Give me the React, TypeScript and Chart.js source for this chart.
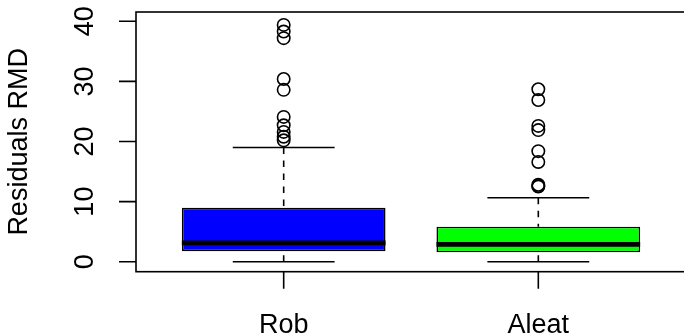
import React, { useEffect, useRef } from 'react';
import { Chart, registerables } from 'chart.js';

Chart.register(...registerables);

// ---- data ----
const categories = ['Rob', 'Aleat'];
const positions = [1, 2];
const boxColors = ['#0000FF', '#00FF00'];
const lowerWhisker = [0, 0];
const q1 = [1.75, 1.56];
const median = [3.15, 2.9];
const q3 = [9.0, 5.82];
const upperWhisker = [19.0, 10.65];
const robOutliers = [39.4, 38.3, 37.2, 30.4, 28.6, 24.1, 22.7, 21.6, 20.8, 20.2];
const aleatOutliers = [28.7, 26.9, 22.6, 21.9, 18.4, 16.6, 12.8, 12.6, 12.5];
const outliers = [robOutliers, aleatOutliers];
const yTicks = [0, 10, 20, 30, 40];
const yTitle = 'Residuals RMD';

// ---- scale limits / styling ----
const X_MIN = 0.42;
const X_MAX = 2.58;
const Y_MIN = -1.66;
const Y_MAX = 41.55;
const BOX_WEX = 0.8;
const STAPLE_WEX = 0.4;
const LW = 1.6;
const FONT = '27px "Liberation Sans", Arial, Helvetica, sans-serif';

const seg = (pts: { x: number; y: number }[], width: number, dash: number[] = []) => ({
  type: 'line' as const,
  data: pts,
  borderColor: '#000',
  borderWidth: width,
  borderDash: dash,
  borderCapStyle: 'butt' as const,
  pointRadius: 0,
  pointHoverRadius: 0,
  fill: false,
  tension: 0,
  order: 1,
});

const rAxes = {
  id: 'rAxes',
  afterDraw(chart: any) {
    const { ctx, chartArea } = chart;
    const { left, right, top, bottom } = chartArea;
    const xs = chart.scales.x;
    const ys = chart.scales.y;
    ctx.save();
    ctx.strokeStyle = '#000';
    ctx.fillStyle = '#000';
    ctx.lineWidth = LW;
    // frame
    ctx.strokeRect(left, top, right - left, bottom - top);
    // y axis ticks
    ctx.font = FONT;
    ctx.beginPath();
    yTicks.forEach((t) => {
      const py = ys.getPixelForValue(t);
      ctx.moveTo(left - 17, py);
      ctx.lineTo(left, py);
    });
    ctx.stroke();
    yTicks.forEach((t) => {
      const py = ys.getPixelForValue(t);
      ctx.save();
      ctx.translate(left - 42.7, py);
      ctx.rotate(-Math.PI / 2);
      ctx.textAlign = 'center';
      ctx.textBaseline = 'alphabetic';
      ctx.fillText(String(t), 0, 0);
      ctx.restore();
    });
    // x axis ticks
    ctx.beginPath();
    positions.forEach((p) => {
      const px = xs.getPixelForValue(p);
      ctx.moveTo(px, bottom);
      ctx.lineTo(px, bottom + 17);
    });
    ctx.stroke();
    positions.forEach((p, i) => {
      const px = xs.getPixelForValue(p);
      ctx.textAlign = 'center';
      ctx.textBaseline = 'alphabetic';
      ctx.fillText(categories[i], px, bottom + 61);
    });
    // y title
    ctx.save();
    ctx.translate(26.7, (top + bottom) / 2);
    ctx.rotate(-Math.PI / 2);
    ctx.textAlign = 'center';
    ctx.textBaseline = 'alphabetic';
    ctx.fillText(yTitle, 0, 0);
    ctx.restore();
    ctx.restore();
  },
};

export default function App() {
  const ref = useRef<HTMLCanvasElement>(null);
  useEffect(() => {
    if (!ref.current) return;
    const datasets: any[] = [];
    datasets.push({
      type: 'bar',
      data: positions.map((p, i) => ({ x: p, y: [q1[i], q3[i]] })),
      backgroundColor: boxColors,
      borderColor: '#000',
      borderWidth: LW,
      borderSkipped: false,
      barPercentage: BOX_WEX,
      categoryPercentage: 1,
      order: 10,
    });
    positions.forEach((p, i) => {
      datasets.push(seg([{ x: p, y: upperWhisker[i] }, { x: p, y: q3[i] }], LW, [6.5, 6.5]));
      datasets.push(seg([{ x: p, y: lowerWhisker[i] }, { x: p, y: q1[i] }], LW, [6.5, 6.5]));
      datasets.push(seg([{ x: p - STAPLE_WEX / 2, y: upperWhisker[i] }, { x: p + STAPLE_WEX / 2, y: upperWhisker[i] }], LW));
      datasets.push(seg([{ x: p - STAPLE_WEX / 2, y: lowerWhisker[i] }, { x: p + STAPLE_WEX / 2, y: lowerWhisker[i] }], LW));
      datasets.push(seg([{ x: p - BOX_WEX / 2, y: median[i] }, { x: p + BOX_WEX / 2, y: median[i] }], 4.8));
      datasets.push({
        type: 'scatter',
        data: outliers[i].map((v) => ({ x: p, y: v })),
        pointRadius: 6.2,
        pointHoverRadius: 6.2,
        pointBorderWidth: LW,
        pointBackgroundColor: 'rgba(0,0,0,0)',
        pointBorderColor: '#000',
        showLine: false,
        order: 0,
      });
    });
    const chart = new Chart(ref.current, {
      type: 'bar',
      data: { datasets },
      options: {
        animation: false,
        responsive: false,
        devicePixelRatio: 1,
        layout: { padding: { left: 136, right: 14, top: 12, bottom: 64.3 } },
        plugins: { legend: { display: false }, tooltip: { enabled: false } },
        events: [],
        scales: {
          x: {
            type: 'linear',
            min: X_MIN,
            max: X_MAX,
            display: false,
            offset: false,
            afterBuildTicks: (scale: any) => {
              scale.ticks = positions.map((v) => ({ value: v }));
            },
          },
          y: { type: 'linear', min: Y_MIN, max: Y_MAX, display: false },
        },
      },
      plugins: [rAxes],
    } as any);
    return () => chart.destroy();
  }, []);
  return (
    <div style={{ position: 'fixed', left: 0, top: 0, width: 684, height: 336, overflow: 'hidden', background: '#fff' }}>
      <canvas ref={ref} width={700} height={336} style={{ display: 'block' }} />
    </div>
  );
}
